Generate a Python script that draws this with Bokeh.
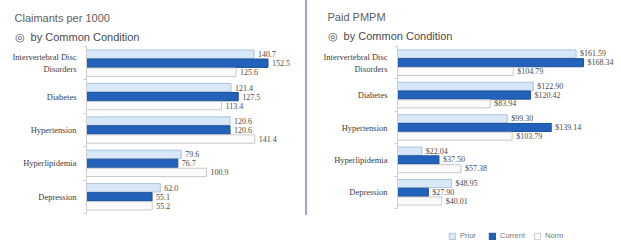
from bokeh.plotting import figure
from bokeh.models import (ColumnDataSource, Range1d, LinearAxis, FixedTicker, Title,
                          Legend, LegendItem, Div)
from bokeh.layouts import row
from bokeh.core.properties import value
from bokeh.embed import file_html
from bokeh.resources import INLINE

# ---------------- data ----------------
categories = ["Intervertebral Disc Disorders", "Diabetes", "Hypertension", "Hyperlipidemia", "Depression"]
category_display = ["Intervertebral Disc\nDisorders", "Diabetes", "Hypertension", "Hyperlipidemia", "Depression"]
series = ["Prior", "Current", "Norm"]

claimants_prior = [140.7, 121.4, 120.6, 79.6, 62.0]
claimants_current = [152.5, 127.5, 120.6, 76.7, 55.1]
claimants_norm = [125.6, 113.4, 141.4, 100.9, 55.2]

paid_prior = [161.59, 122.90, 99.30, 22.04, 48.95]
paid_current = [168.34, 120.42, 139.14, 37.50, 27.90]
paid_norm = [104.79, 83.94, 103.79, 57.38, 40.01]

# ---------------- style ----------------
SERIF = "Liberation Serif"
SANS = "Liberation Sans"
FILLS = {"Prior": "#d9e8f8", "Current": "#2262ba", "Norm": "#fbfbfb"}
LINES = {"Prior": "#aac3e0", "Current": "#1b4f9a", "Norm": "#c9c9c9"}
OFFSETS = {"Prior": 0.27, "Current": 0.0, "Norm": -0.27}

n = len(categories)
centers = [n - 1 - i + 0.5 for i in range(n)]   # first category at the top
bounds = list(range(n + 1))


def make_panel(title, prior, current, norm, fmt, frame_w, frame_h, y_start, x_end,
               border_left, border_top, border_bottom, title_offset, sub_standoff,
               title_standoff):
    vals = {"Prior": prior, "Current": current, "Norm": norm}
    data = dict(cat=categories)
    for s in series:
        data[s] = vals[s]
        data[s + "_y"] = [c + OFFSETS[s] for c in centers]
        data[s + "_lbl"] = [fmt.format(v) for v in vals[s]]
    src = ColumnDataSource(data)

    p = figure(frame_width=frame_w, frame_height=frame_h, title=None,
               y_range=Range1d(y_start, n), x_range=Range1d(0, x_end),
               output_backend="svg", toolbar_location=None,
               x_axis_location=None, y_axis_location=None,
               min_border_left=border_left, min_border_right=0,
               min_border_top=border_top, min_border_bottom=border_bottom,
               outline_line_color=None, background_fill_color="white",
               border_fill_color="white")
    p.grid.grid_line_color = None

    y_axis = LinearAxis(ticker=FixedTicker(ticks=centers, minor_ticks=bounds),
                        bounds=(0, n),
                        major_label_overrides={c: lbl for c, lbl in zip(centers, category_display)},
                        major_tick_in=0, major_tick_out=0, major_tick_line_color=None,
                        minor_tick_in=0, minor_tick_out=3, minor_tick_line_color="#cfcfcf",
                        axis_line_color="#cfcfcf",
                        major_label_standoff=7,
                        major_label_text_font=SERIF,
                        major_label_text_font_size="8.5px",
                        major_label_text_color="#3c3c3c")
    p.add_layout(y_axis, "left")

    renderers = {}
    for s in series:
        renderers[s] = p.hbar(y=s + "_y", left=0, right=s, height=0.25, source=src,
                              fill_color=FILLS[s], line_color=LINES[s], line_width=1)
        p.text(x=s, y=s + "_y", text=s + "_lbl", source=src, x_offset=4,
               text_baseline="middle", text_align="left",
               text_font=value(SERIF), text_font_size="8px", text_color="#4a4a4a")

    p.add_layout(Title(text="\u25CE\u00A0 by Common Condition", align="left", offset=title_offset,
                       standoff=sub_standoff, text_font=SANS, text_font_size="11px",
                       text_font_style="normal", text_color="#4a4a4a"), "above")
    p.add_layout(Title(text=title, align="left", offset=title_offset,
                       standoff=title_standoff, text_font=SANS, text_font_size="11px",
                       text_font_style="normal", text_color="#5e5e5e"), "above")
    return p, renderers


left, _ = make_panel("Claimants per 1000", claimants_prior, claimants_current, claimants_norm,
                     "{:.1f}", 219, 167, 0, 184.0, 86, 46, 32, -72, 8, 2)
# right frame reaches the bottom so that the legend sits inside it
right_unit = 162 / n
right, rr = make_panel("Paid PMPM", paid_prior, paid_current, paid_norm,
                       "${:.2f}", 224, 199, -(199 - 162) / right_unit, 202.7, 90, 46, 0,
                       -70, 10, 0)

legend = Legend(items=[LegendItem(label=s, renderers=[rr[s]]) for s in series],
                location=(51, 5), orientation="horizontal",
                padding=0, margin=0, spacing=8, label_standoff=4,
                glyph_width=8, glyph_height=8,
                label_text_font=SANS, label_text_font_size="7.5px",
                label_text_color="#777777",
                border_line_color=None, background_fill_alpha=0)
right.add_layout(legend)

sep = Div(width=2, height=215, margin=0, styles={"background-color": "#a3a3c8"})

layout = row(left, sep, right, spacing=0)
open("out.html", "w").write(file_html(layout, INLINE))
